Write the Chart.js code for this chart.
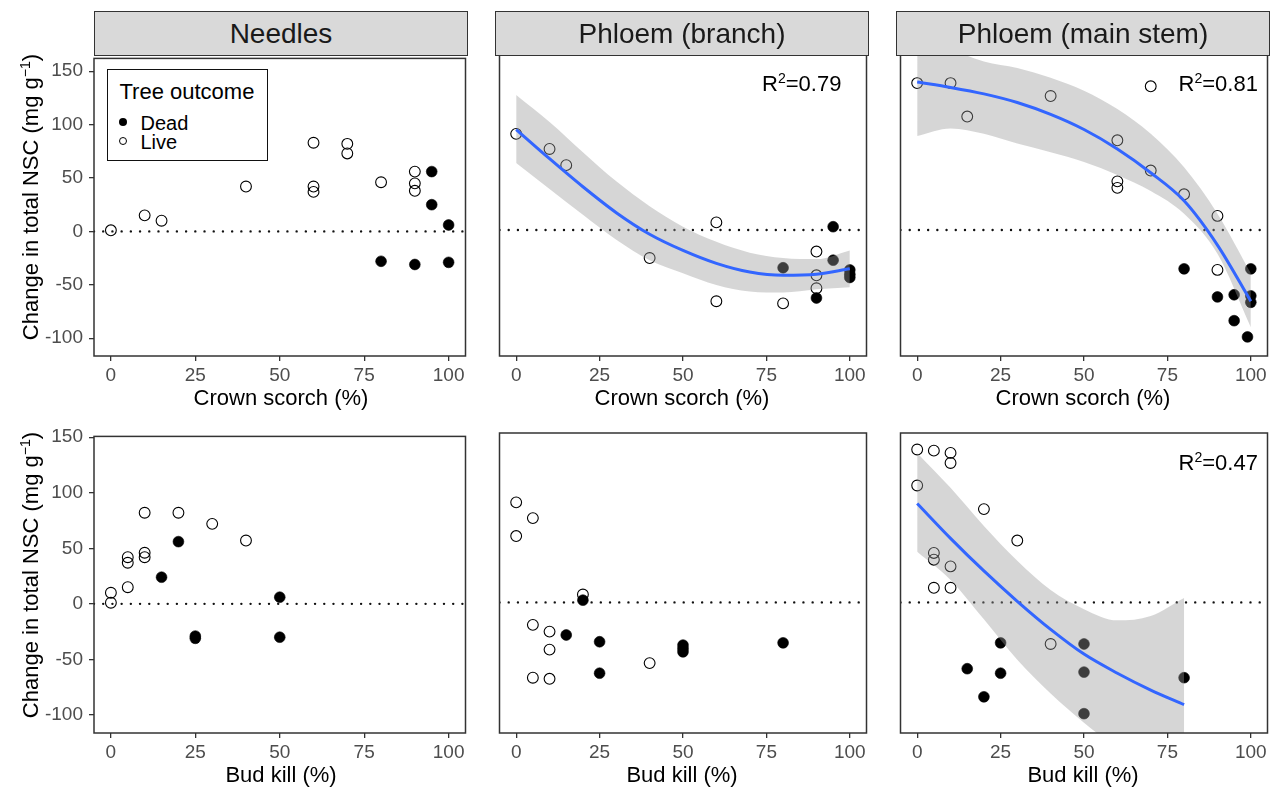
<!DOCTYPE html>
<html>
<head>
<meta charset="utf-8">
<script src="https://cdn.jsdelivr.net/npm/chart.js@4.4.1/dist/chart.umd.min.js"></script>
<style>
  html, body { margin: 0; padding: 0; background: #fff; }
  #fig { position: relative; width: 1277px; height: 790px; background: #fff; overflow: hidden;
         font-family: 'Liberation Sans', Arial, sans-serif; color: #000; }
  .txt { position: absolute; white-space: nowrap; z-index: 3; }
  .strip { position: absolute; box-sizing: border-box; background: #d9d9d9; border: 1.4px solid #333; z-index: 2; }
  sup { font-size: 0.64em; vertical-align: 0; position: relative; top: -0.55em; }
</style>
</head>
<body>
<div id="fig"></div>
<script>
// axes
const xTicks = [0, 25, 50, 75, 100];
const yTicks = [-100, -50, 0, 50, 100, 150];
const xLimits = [-5, 105];
const yLimitsTop = [-116.7, 162];
const yLimitsBottom = [-116.2, 150.7];
const zeroY = 0;

// Needles ~ crown scorch
const needlesScorchLiveX = [0, 10, 15, 40, 60, 60, 60, 70, 70, 80, 90, 90, 90];
const needlesScorchLiveY = [1, 15, 10, 42, 83, 42, 37, 82, 73, 46, 56, 45, 38];
const needlesScorchDeadX = [80, 90, 95, 95, 100, 100];
const needlesScorchDeadY = [-28, -31, 56, 25, 6, -29];

// Phloem (branch) ~ crown scorch
const branchScorchLiveX = [0, 10, 15, 40, 60, 60, 80, 90, 90, 90];
const branchScorchLiveY = [89, 75, 60, -26, 7, -66, -68, -20, -42, -54];
const branchScorchDeadX = [80, 90, 95, 95, 100, 100, 100];
const branchScorchDeadY = [-35, -63, 3, -28, -37, -41, -44];
const branchScorchFitX = [0, 10, 20, 30, 40, 50, 60, 70, 80, 90, 100];
const branchScorchFitY = [93, 66, 40, 16, -4, -19, -31, -39, -42, -41, -36];
const branchScorchHi = [125, 100, 72, 45, 22, 3, -11, -21, -26, -27, -19];
const branchScorchLo = [62, 38, 14, -9, -28, -40, -51, -57, -58, -55, -53];

// Phloem (main stem) ~ crown scorch
const stemScorchLiveX = [0, 10, 15, 40, 60, 60, 60, 70, 70, 80, 90, 90];
const stemScorchLiveY = [136, 136, 105, 124, 83, 45, 39, 133, 55, 33, 13, -37];
const stemScorchDeadX = [80, 90, 95, 95, 99, 100, 100, 100];
const stemScorchDeadY = [-36, -62, -60, -84, -99, -36, -61, -67];
const stemScorchFitX = [0, 10, 20, 30, 40, 50, 60, 70, 80, 90, 100];
const stemScorchFitY = [137, 132, 126, 118, 107, 93, 75, 53, 27, -14, -66];
const stemScorchHi = [185, 168, 156, 150, 141, 129, 112, 89, 58, 15, -40];
const stemScorchLo = [87, 94, 89, 80, 72, 63, 51, 36, 15, -22, -90];

// Needles ~ bud kill
const needlesBudLiveX = [0, 0, 5, 5, 5, 10, 10, 10, 20, 30, 40];
const needlesBudLiveY = [10, 1, 42, 37, 15, 82, 46, 42, 82, 72, 57];
const needlesBudDeadX = [15, 20, 25, 25, 50, 50];
const needlesBudDeadY = [24, 56, -29, -31, 6, -30];

// Phloem (branch) ~ bud kill
const branchBudLiveX = [0, 0, 5, 5, 5, 10, 10, 10, 20, 40];
const branchBudLiveY = [89, 59, 75, -20, -67, -26, -42, -68, 7, -54];
const branchBudDeadX = [15, 20, 25, 25, 50, 50, 50, 80];
const branchBudDeadY = [-29, 2, -35, -63, -38, -41, -44, -36];

// Phloem (main stem) ~ bud kill
const stemBudLiveX = [0, 0, 5, 5, 5, 5, 10, 10, 10, 10, 20, 30, 40];
const stemBudLiveY = [136, 104, 135, 44, 38, 13, 133, 124, 32, 13, 83, 55, -37];
const stemBudDeadX = [15, 20, 25, 25, 50, 50, 50, 80];
const stemBudDeadY = [-59, -84, -36, -63, -37, -62, -99, -67];
const stemBudFitX = [0, 10, 20, 30, 40, 50, 60, 70, 80];
const stemBudFitY = [88, 57, 28, 1, -24, -46, -63, -78, -91];
const stemBudHi = [133, 102, 68, 37, 11, -6, -16, -12, 4];
const stemBudLo = [45, 20, -15, -51, -81, -107, -130, -150, -170];

const strips = ['Needles', 'Phloem (branch)', 'Phloem (main stem)'];
const xTitles = ['Crown scorch (%)', 'Bud kill (%)'];
const yTitle = 'Change in total NSC (mg g<sup>\u22121</sup>)';

const pts = (xs, ys) => xs.map((x, i) => ({ x, y: ys[i] }));

const panels = [
  { row: 0, col: 0, live: pts(needlesScorchLiveX, needlesScorchLiveY), dead: pts(needlesScorchDeadX, needlesScorchDeadY) },
  { row: 0, col: 1, live: pts(branchScorchLiveX, branchScorchLiveY), dead: pts(branchScorchDeadX, branchScorchDeadY),
    fit: pts(branchScorchFitX, branchScorchFitY), hi: pts(branchScorchFitX, branchScorchHi), lo: pts(branchScorchFitX, branchScorchLo), r2: '0.79' },
  { row: 0, col: 2, live: pts(stemScorchLiveX, stemScorchLiveY), dead: pts(stemScorchDeadX, stemScorchDeadY),
    fit: pts(stemScorchFitX, stemScorchFitY), hi: pts(stemScorchFitX, stemScorchHi), lo: pts(stemScorchFitX, stemScorchLo), r2: '0.81' },
  { row: 1, col: 0, live: pts(needlesBudLiveX, needlesBudLiveY), dead: pts(needlesBudDeadX, needlesBudDeadY) },
  { row: 1, col: 1, live: pts(branchBudLiveX, branchBudLiveY), dead: pts(branchBudDeadX, branchBudDeadY) },
  { row: 1, col: 2, live: pts(stemBudLiveX, stemBudLiveY), dead: pts(stemBudDeadX, stemBudDeadY),
    fit: pts(stemBudFitX, stemBudFitY), hi: pts(stemBudFitX, stemBudHi), lo: pts(stemBudFitX, stemBudLo), r2: '0.47' },
];

// layout
const colLeft = [94, 495, 896];
const panelW = 374;
const rowTop = [55, 433];
const rowH = [301, 300];
const yLimits = [yLimitsTop, yLimitsBottom];

Chart.defaults.font.family = "'Liberation Sans', Arial, sans-serif";
Chart.defaults.animation = false;

const frame = {
  id: 'frame',
  afterDatasetsDraw(chart) {
    const { ctx, chartArea: a } = chart;
    ctx.save();
    ctx.strokeStyle = '#333';
    ctx.lineWidth = 1.5;
    ctx.strokeRect(a.left, a.top, a.right - a.left, a.bottom - a.top);
    ctx.restore();
  }
};

const fig = document.getElementById('fig');
function addText(html, css) {
  const d = document.createElement('div');
  d.className = 'txt';
  d.innerHTML = html;
  d.style.cssText += css;
  fig.appendChild(d);
  return d;
}

panels.forEach(p => {
  const L = colLeft[p.col], T = rowTop[p.row], H = rowH[p.row];
  const showY = p.col === 0;
  const axisW = showY ? L : 2;
  const padT = 14, padR = 4, axisH = 32;

  const cv = document.createElement('canvas');
  cv.width = axisW + panelW + padR;
  cv.height = padT + H + axisH;
  cv.style.cssText = `position:absolute;left:${L - axisW}px;top:${T - padT}px;z-index:1`;
  fig.appendChild(cv);

  const datasets = [
    { data: xLimits.map(x => ({ x, y: zeroY })), showLine: true, pointRadius: 0,
      borderColor: '#111', borderWidth: 2.4, borderDash: [0.01, 9.2], borderCapStyle: 'round', order: 3 },
    { data: p.live, pointRadius: 5.4, pointBackgroundColor: 'rgba(0,0,0,0)', pointBorderColor: '#000',
      pointBorderWidth: 1.1, order: 2 },
    { data: p.dead, pointRadius: 5.4, pointBackgroundColor: '#000', pointBorderColor: '#000',
      pointBorderWidth: 0.6, order: 2 },
  ];
  if (p.fit) {
    datasets.push(
      { data: p.hi, showLine: true, pointRadius: 0, borderWidth: 0, cubicInterpolationMode: 'monotone',
        fill: '+1', backgroundColor: 'rgba(153,153,153,0.4)', order: 1 },
      { data: p.lo, showLine: true, pointRadius: 0, borderWidth: 0, cubicInterpolationMode: 'monotone',
        fill: false, order: 1 },
      { data: p.fit, showLine: true, pointRadius: 0, borderColor: '#3366FF', borderWidth: 3,
        cubicInterpolationMode: 'monotone', order: 0 }
    );
  }

  const tickGrid = { drawOnChartArea: false, drawTicks: true, tickLength: 5, color: '#333', lineWidth: 1.3 };
  new Chart(cv, {
    type: 'scatter',
    data: { datasets },
    options: {
      responsive: false,
      devicePixelRatio: 1,
      events: [],
      layout: { padding: { top: padT, right: padR, left: showY ? 0 : 2, bottom: 0 } },
      plugins: { legend: { display: false }, tooltip: { enabled: false } },
      scales: {
        x: {
          type: 'linear', min: xLimits[0], max: xLimits[1],
          afterBuildTicks: s => { s.ticks = xTicks.map(v => ({ value: v })); },
          afterFit: s => { s.height = axisH; },
          ticks: { font: { size: 19 }, color: '#4d4d4d', padding: 3, maxRotation: 0, autoSkip: false },
          grid: tickGrid,
          border: { display: false }
        },
        y: {
          type: 'linear', display: showY, min: yLimits[p.row][0], max: yLimits[p.row][1],
          afterBuildTicks: s => { s.ticks = yTicks.map(v => ({ value: v })); },
          afterFit: s => { s.width = axisW; },
          ticks: { font: { size: 19 }, color: '#4d4d4d', padding: 6, autoSkip: false },
          grid: tickGrid,
          border: { display: false }
        }
      }
    },
    plugins: [frame]
  });

  // x axis title
  addText(xTitles[p.row], `left:${L}px;width:${panelW}px;text-align:center;top:${T + H + 31}px;font-size:22px;line-height:22px;`);

  // R squared
  if (p.r2) {
    const rx = p.col === 1 ? 762 : 1178.5;
    const ry = p.row === 0 ? 72.5 : 451.5;
    addText(`R<sup>2</sup>=${p.r2}`, `left:${rx}px;top:${ry}px;font-size:22px;line-height:22px;`);
  }
});

// strips
strips.forEach((s, i) => {
  const d = document.createElement('div');
  d.className = 'strip';
  d.style.cssText += `left:${colLeft[i]}px;top:11px;width:${panelW}px;height:45px;`;
  fig.appendChild(d);
  addText(s, `left:${colLeft[i]}px;width:${panelW}px;text-align:center;top:20px;font-size:28px;line-height:28px;color:#1a1a1a;`);
});

// y axis titles
[197, 575].forEach(cy => {
  addText(yTitle, `left:${30.5 - 200}px;top:${cy - 11}px;width:400px;height:22px;text-align:center;font-size:22px;line-height:22px;transform:rotate(-90deg);`);
});

// legend
const lg = document.createElement('div');
lg.style.cssText = 'position:absolute;left:107px;top:69px;width:161px;height:92px;box-sizing:border-box;border:1.4px solid #111;background:#fff;z-index:2;';
fig.appendChild(lg);
addText('Tree outcome', 'left:119.5px;top:80.5px;font-size:22px;line-height:22px;');
addText('Dead', 'left:140.5px;top:113px;font-size:20px;line-height:20px;');
addText('Live', 'left:140.5px;top:132px;font-size:20px;line-height:20px;');
addText('', 'left:119.3px;top:117.7px;width:8px;height:8px;border-radius:50%;background:#000;');
addText('', 'left:119.3px;top:136.7px;width:8px;height:8px;border-radius:50%;box-sizing:border-box;border:1px solid #000;');
</script>
</body>
</html>
